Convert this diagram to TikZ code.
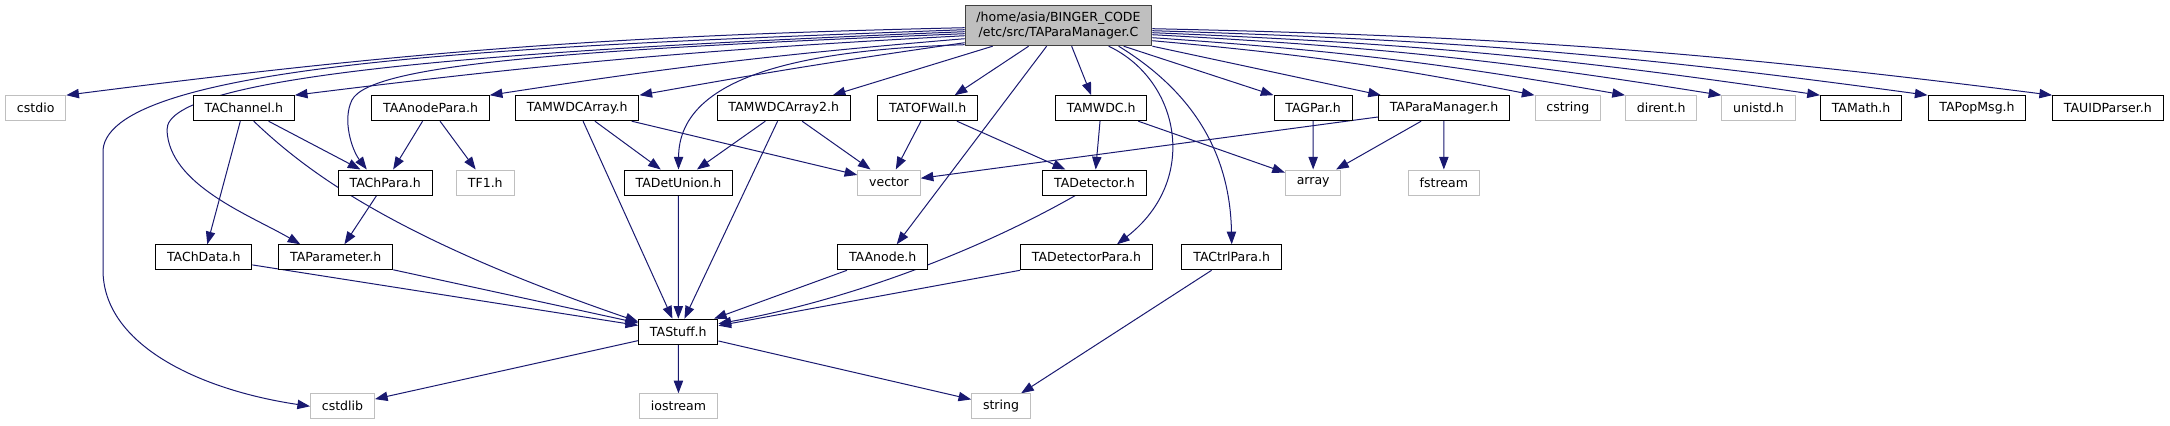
\documentclass[tikz,border=0pt]{standalone}
\usepackage{fontspec}
\setmainfont{DejaVu Sans}
\usepackage{tikz}
\usetikzlibrary{arrows.meta,calc,backgrounds}

\definecolor{edgeblue}{HTML}{191970}
\definecolor{extgray}{HTML}{BFBFBF}
\tikzset{
    hdr/.style={draw=black, fill=white, line width=0.75pt, inner xsep=8.5pt, inner ysep=0pt,
        minimum height=18.75pt, font=\fontsize{9.4}{11.3}\selectfont},
    sys/.style={hdr, draw=extgray},
    rootnode/.style={hdr, fill=extgray, draw=black!75, align=center, minimum height=30pt},
    dep/.style={draw=edgeblue, line width=0.75pt, -{Triangle[length=9.5pt,width=7pt]}},
}

\begin{document}
\begin{tikzpicture}[x=0.75pt,y=-0.75pt]
            \useasboundingbox (0,0) rectangle (2170,425);

            % the file itself
            \node[rootnode] (top) at (1058.5,25.7) {/home/asia/BINGER\_CODE\\/etc/src/TAParaManager.C};

            % first row
            \node[sys] (cstdio) at (35.7,108.2) {cstdio};
            \node[hdr] (tachannel) at (243.8,108.2) {TAChannel.h};
            \node[hdr] (taanodepara) at (430.5,108.2) {TAAnodePara.h};
            \node[hdr] (tamwdcarray) at (577.2,108.2) {TAMWDCArray.h};
            \node[hdr] (tamwdcarray2) at (783.7,108.2) {TAMWDCArray2.h};
            \node[hdr] (tatofwall) at (927.7,108.2) {TATOFWall.h};
            \node[hdr] (tamwdc) at (1101.2,108.2) {TAMWDC.h};
            \node[hdr] (tagpar) at (1313,108.2) {TAGPar.h};
            \node[hdr] (taparamanager) at (1444,108.2) {TAParaManager.h};
            \node[sys] (cstring) at (1567.8,108.2) {cstring};
            \node[sys] (dirent) at (1661.2,108.2) {dirent.h};
            \node[sys] (unistd) at (1758.5,108.2) {unistd.h};
            \node[hdr] (tamath) at (1861,108.2) {TAMath.h};
            \node[hdr] (tapopmsg) at (1977,108.2) {TAPopMsg.h};
            \node[hdr] (tauidparser) at (2107.8,108.2) {TAUIDParser.h};

            % second row
            \node[hdr] (tachpara) at (385.2,182.5) {TAChPara.h};
            \node[sys] (tf1) at (485.3,182.5) {TF1.h};
            \node[hdr] (tadetunion) at (678.5,182.5) {TADetUnion.h};
            \node[sys] (vector) at (889,182.5) {vector};
            \node[hdr] (tadetector) at (1094.5,182.5) {TADetector.h};
            \node[sys] (array) at (1313.2,182.5) {array};
            \node[sys] (fstream) at (1443.8,182.5) {fstream};

            % third row
            \node[hdr] (tachdata) at (203.8,257.3) {TAChData.h};
            \node[hdr] (taparameter) at (335.8,257.3) {TAParameter.h};
            \node[hdr] (taanode) at (882.7,257.3) {TAAnode.h};
            \node[hdr] (tadetectorpara) at (1086.5,257.3) {TADetectorPara.h};
            \node[hdr] (tactrlpara) at (1231.7,257.3) {TACtrlPara.h};

            \node[hdr] (tastuff) at (678.3,331.7) {TAStuff.h};

            % last row
            \node[sys] (cstdlib) at (342.5,406.3) {cstdlib};
            \node[sys] (iostream) at (678.5,406.3) {iostream};
            \node[sys] (string) at (1001,406.3) {string};

            \begin{scope}[on background layer]
                % includes of the file itself
                \draw[dep] ($(top.west)+(0,2)$) to[bend right=3] (cstdio.north east);
                \draw[dep] ($(top.west)+(0,10)$) to[bend right=2] (tachannel.north east);
                \draw[dep] ($(top.west)+(0,13)$) to[bend right=2] (taanodepara.north east);
                \draw[dep] ($(top.west)+(0,17)$) to[bend right=1] (tamwdcarray.north east);
                \draw[dep] ($(top.west)+(0,4)$) .. controls (550,45) and (110,60) .. (103,150)
                    -- (103,270) .. controls (103,345) and (200,390) .. (cstdlib.west);
                \draw[dep] ($(top.west)+(0,6)$) .. controls (500,50) and (165,75) .. (167,130)
                    .. controls (169,185) and (250,215) .. ($(taparameter.north west)+(22,0)$);
                \draw[dep] ($(top.west)+(0,8)$) .. controls (560,50) and (370,65) .. (352,100)
                    .. controls (342,120) and (352,150) .. ($(tachpara.north west)+(29,0)$);
                \draw[dep] ($(top.west)+(0,19)$) .. controls (790,50) and (679,80) .. (tadetunion.north);
                \draw[dep] ($(top.south west)+(28,0)$) -- ($(tamwdcarray2.north east)+(-18,0)$);
                \draw[dep] ($(top.south west)+(64,0)$) -- ($(tatofwall.north)+(27,0)$);
                \draw[dep] ($(top.south west)+(82,0)$) -- ($(taanode.north)+(14,0)$);
                \draw[dep] ($(top.south west)+(107,0)$) -- ($(tamwdc.north)+(-10,0)$);
                \draw[dep] ($(top.south west)+(144,0)$) .. controls (1180,80) and (1200,180) .. ($(tadetectorpara.north east)+(-36,0)$);
                \draw[dep] ($(top.south west)+(154,0)$) .. controls (1190,90) and (1230,150) .. (tactrlpara.north);
                \draw[dep] ($(top.south west)+(159,0)$) -- (tagpar.north west);
                \draw[dep] (top.south east) -- ($(taparamanager.north west)+(3,0)$);
                \draw[dep] ($(top.east)+(0,15)$) to[bend left=3] (cstring.north west);
                \draw[dep] ($(top.east)+(0,12)$) to[bend left=3] (dirent.north west);
                \draw[dep] ($(top.east)+(0,9)$) to[bend left=3] (unistd.north west);
                \draw[dep] ($(top.east)+(0,7)$) to[bend left=3] (tamath.north west);
                \draw[dep] ($(top.east)+(0,5)$) to[bend left=3] (tapopmsg.north west);
                \draw[dep] ($(top.east)+(0,3)$) to[bend left=3] (tauidparser.north west);

                % headers in between
                \draw[dep] (tachannel) -- (tachpara);
                \draw[dep] (tachannel) -- (tachdata);
                \draw[dep] ($(tachannel.south west)+(61,0)$) .. controls (310,175) and (400,240) .. ($(tastuff.west)+(0,-10)$);
                \draw[dep] (taanodepara) -- (tachpara);
                \draw[dep] (taanodepara) -- (tf1);
                \draw[dep] (tachpara) -- (taparameter);
                \draw[dep] (tamwdcarray) -- (tadetunion);
                \draw[dep] (tamwdcarray) -- (tastuff);
                \draw[dep] (tamwdcarray) -- (vector);
                \draw[dep] (tamwdcarray2) -- (tadetunion);
                \draw[dep] (tamwdcarray2) -- (tastuff);
                \draw[dep] (tamwdcarray2) -- (vector);
                \draw[dep] (tatofwall) -- (vector);
                \draw[dep] (tatofwall) -- (tadetector);
                \draw[dep] (tamwdc) -- (tadetector);
                \draw[dep] (tamwdc) -- (array);
                \draw[dep] (tagpar) -- (array);
                \draw[dep] (taparamanager) -- (vector);
                \draw[dep] (taparamanager) -- (array);
                \draw[dep] (taparamanager) -- (fstream);
                \draw[dep] (tadetunion) -- (tastuff);
                \draw[dep] ($(tadetector.south west)+(33,0)$) .. controls (980,250) and (850,300) .. ($(tastuff.east)+(0,-8)$);
                \draw[dep] (tachdata) -- (tastuff);
                \draw[dep] (taparameter) -- (tastuff);
                \draw[dep] (taanode) -- (tastuff);
                \draw[dep] (tadetectorpara.south west) -- ($(tastuff.east)+(0,-6)$);
                \draw[dep] (tactrlpara) -- (string);
                \draw[dep] (tastuff) -- (cstdlib);
                \draw[dep] (tastuff) -- (iostream);
                \draw[dep] (tastuff) -- (string);
            \end{scope}
        \end{tikzpicture}
\end{document}
